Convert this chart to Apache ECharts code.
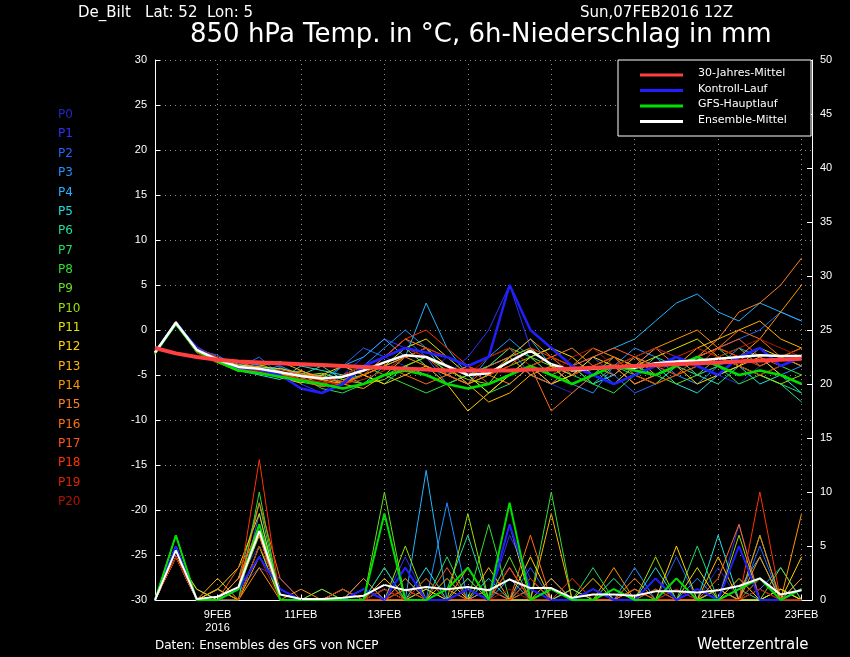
<!DOCTYPE html><html><head><meta charset="utf-8">
<script src="https://cdn.jsdelivr.net/npm/echarts@6/dist/echarts.min.js"></script>
<style>html,body{margin:0;background:#000}#c{width:850px;height:657px}</style></head><body><div id="c"></div>
<script>
// x in days of February, 12-hourly from 7 Feb 12Z
const times=[7.5,8,8.5,9,9.5,10,10.5,11,11.5,12,12.5,13,13.5,14,14.5,15,15.5,16,16.5,17,17.5,18,18.5,19,19.5,20,20.5,21,21.5,22,22.5,23];
const tickDays=[9,11,13,15,17,19,21,23];
const tickLabels=['9FEB\n2016','11FEB','13FEB','15FEB','17FEB','19FEB','21FEB','23FEB'];
const memberNames=['P0','P1','P2','P3','P4','P5','P6','P7','P8','P9','P10','P11','P12','P13','P14','P15','P16','P17','P18','P19','P20'];
const memberColors=['#2424c8','#3030ff','#2266ff','#2290ff','#22b4ff','#22dede','#22dca0','#22dc66','#33dd33','#66dd22','#99e000','#e0e000','#ffd200','#ffb400','#ff9600','#ff8020','#ff7010','#ff5520','#ff3300','#e02200','#b01400'];
const temps=[
[-2.5,0.5,-2,-3,-4,-3.5,-4,-5,-6,-5,-4,-3,-4,-5,-3,-4,-6,-5,-4,-6,-7,-5,-4,-6,-5,-3,-4,-5,-6,-4,-3,-4],
[-2.6,0.8,-1.8,-3.2,-3.5,-4,-4.5,-6,-7,-5,-3,-1,-2,-4,-5,-3,0,5,-2,-4,-6,-5,-3,-4,-2,-3,-5,-4,-3,-2,-4,-3],
[-2.4,0.9,-2.2,-2.8,-4.2,-3,-5,-5.5,-6,-4,-2,-3,-1,-3,-6,-5,-4,-2,-5,-6,-4,-3,-5,-7,-6,-4,-3,-2,-1,0,2,1],
[-2.5,0.7,-2.5,-3.5,-4,-4.5,-4,-5,-5,-6,-4,-2,0,-2,-4,-6,-3,-1,-3,-5,-6,-7,-4,-2,-3,-5,-6,-4,-2,-3,-5,-4],
[-2.7,1,-2,-3,-3.8,-4.2,-5,-4.5,-5.5,-4,-3,-1,-3,3,-2,-5,-4,-3,-1,-4,-5,-3,-2,-1,1,3,4,2,1,3,2,1],
[-2.6,0.9,-2.1,-3.3,-4.5,-5,-5.5,-4,-4.5,-5,-6,-4,-3,-2,-5,-4,-6,-5,-3,-2,-4,-6,-5,-3,-4,-6,-7,-5,-4,-6,-5,-7],
[-2.5,0.6,-2.3,-3.6,-4.4,-4.8,-4.2,-5,-4,-5.5,-5,-6,-4,-5,-6,-5,-4,-3,-5,-6,-5,-4,-6,-5,-3,-4,-5,-6,-4,-5,-6,-8],
[-2.4,0.8,-2.4,-3.1,-4.1,-3.8,-4.6,-5.2,-6.5,-7,-6,-5,-4,-3,-4,-5,-7,-6,-4,-3,-5,-6,-4,-5,-6,-4,-3,-2,-4,-5,-6,-7],
[-2.6,0.7,-2.2,-3.4,-4.3,-4.6,-5.2,-5.8,-6.2,-5,-4,-5,-6,-7,-6,-5,-4,-2,-3,-5,-4,-6,-7,-5,-4,-3,-5,-4,-6,-5,-4,-5],
[-2.5,0.9,-2,-3.2,-4,-4.4,-4.9,-5.4,-5,-6,-5,-3,-2,-4,-5,-6,-5,-4,-3,-4,-6,-5,-3,-4,-5,-6,-5,-3,-2,-4,-3,-4],
[-2.5,0.8,-2.1,-3.5,-4.2,-4.5,-5,-5.1,-4.8,-5.5,-6,-5.5,-4,-3,-4.5,-5.5,-6,-3,-2,-4,-5,-4,-3,-5,-6,-5,-4,-3,-4,-5,-6,-5],
[-2.6,0.6,-2.4,-3.3,-3.9,-4.1,-4.3,-4.8,-5.6,-6,-5,-4,-2,-1,-3,-5,-7,-5,-3,-2,-3,-5,-6,-4,-3,-2,-1,-3,-4,-2,-3,-2],
[-2.4,0.9,-2.2,-3,-4.4,-4.7,-5.3,-5.9,-5,-4,-5,-6,-5,-4,-6,-9,-7,-5,-4,-6,-5,-3,-4,-6,-5,-4,-6,-5,-4,-3,-5,-6],
[-2.5,0.7,-2.5,-3.6,-4.6,-4,-3.5,-4.5,-5.5,-6,-6.5,-5,-3,-2,-4,-6,-8,-7,-5,-4,-6,-5,-4,-3,-5,-4,-2,-1,0,1,-1,-2],
[-2.7,0.8,-2,-3.1,-4.3,-4.9,-5,-4.6,-5.2,-5.8,-5,-4,-3,-4,-5,-6,-5,-3,-1,-3,-4,-2,-3,-4,-2,-1,0,-2,-3,-1,2,5],
[-2.5,1,-2.3,-3.4,-4.1,-4.4,-4.7,-5.5,-6,-5,-4,-3,-1,-2,-3,-4,-5,-6,-4,-3,-2,-4,-5,-3,-2,-4,-3,-1,2,3,5,8],
[-2.6,0.9,-2.1,-3.2,-3.6,-4.2,-5.1,-5.6,-6.3,-6,-5,-4,-5,-6,-5,-4,-3,-2,-4,-9,-7,-5,-4,-6,-5,-4,-3,-2,0,-1,-3,-4],
[-2.5,0.7,-2.4,-3.5,-4.5,-4.8,-4.4,-4.9,-5.3,-5.7,-4,-3,-2,-3,-5,-6,-4,-3,-5,-6,-4,-3,-2,-3,-4,-5,-3,-2,-1,-3,-4,-3],
[-2.4,0.8,-2.2,-3.3,-4,-4.3,-4.8,-5.2,-5.6,-6.1,-5,-3,-1,0,-2,-4,-5,-4,-2,-3,-5,-4,-3,-5,-6,-5,-4,-2,-3,-4,-3,-2],
[-2.6,0.6,-2.5,-3.7,-4.4,-4.6,-5,-5.4,-5.8,-6,-5.5,-4.5,-3,-2,-3,-4,-6,-5,-4,-3,-4,-5,-6,-5,-4,-3,-2,-3,-4,-5,-4,-3],
[-2.5,0.9,-2,-3,-4.2,-4.6,-5.2,-5.5,-6,-5,-4,-3,-2,-3,-4,-5,-3,-2,-4,-5,-3,-2,-4,-3,-2,-3,-4,-3,-2,-1,-2,-3]
];
const controlTemp=[-2.5,0.8,-2.1,-3.3,-4.2,-4.4,-5,-6.5,-7,-6,-4,-3,-2,-2.5,-3,-4,-3,5,0,-2,-4,-5,-6,-5,-4,-3,-4,-5,-3,-2,-4,-3];
const gfsTemp=[-2.6,0.7,-2.3,-3.5,-4.5,-4.8,-5.2,-5.6,-6,-6.5,-6,-5,-4.5,-5,-6,-6.5,-6,-5,-4,-5,-6,-5,-4,-4.5,-5,-4,-3,-4,-5,-4.5,-5,-6];
const meanTemp=[-2.5,0.8,-2.2,-3.3,-4.1,-4.3,-4.7,-5.1,-5.4,-5.2,-4.5,-3.6,-2.8,-3,-4,-5,-4.8,-3.5,-2.3,-3.8,-4.5,-4.3,-4,-4.2,-3.7,-3.5,-3.4,-3.2,-3,-2.8,-2.9,-2.9];
const climTemp=[-2,-2.6,-3,-3.3,-3.5,-3.6,-3.7,-3.8,-3.9,-4,-4.1,-4.2,-4.3,-4.4,-4.5,-4.5,-4.5,-4.5,-4.4,-4.4,-4.3,-4.2,-4.1,-4,-3.9,-3.8,-3.7,-3.6,-3.5,-3.4,-3.3,-3.2];
const precip=[
[0,4,0,0,2,5,1,0,0,0,0,1,0,2,0,0,1,3,0,0,1,0,2,0,0,1,0,3,0,1,0,0],
[0,5,0,0,1,3,2,0,0,0,1,0,4,0,0,1,0,6,2,0,0,1,0,0,2,0,1,0,7,0,0,1],
[0,4,0,1,0,8,0,0,1,0,0,3,0,1,0,2,0,0,3,0,0,0,1,0,0,4,0,1,0,5,0,0],
[0,4,1,0,2,6,0,0,0,0,0,0,2,0,9,0,1,0,0,2,0,0,0,3,0,0,2,0,0,1,3,0],
[0,5,0,0,1,4,1,0,0,0,2,0,0,12,0,0,0,2,0,0,1,0,0,0,2,0,0,0,1,4,0,2],
[0,4,0,0,0,5,0,0,0,0,0,1,0,3,0,0,2,0,0,1,0,0,0,0,3,0,0,6,0,0,1,0],
[0,4,0,0,1,7,1,0,0,1,0,0,0,0,1,6,0,0,2,0,0,1,0,0,0,2,0,0,1,0,0,1],
[0,5,0,0,2,9,0,0,0,0,0,3,0,0,4,0,0,0,1,0,0,3,0,0,1,0,5,0,0,2,0,0],
[0,6,0,0,0,10,0,0,0,0,1,0,0,2,0,0,7,0,0,10,0,0,2,0,0,0,0,1,0,6,0,1],
[0,5,0,0,1,6,1,0,0,0,0,10,0,0,0,2,0,4,0,0,0,1,0,0,2,0,0,1,0,0,3,0],
[0,6,0,1,0,5,0,0,1,0,0,0,5,0,0,8,0,0,2,0,1,0,0,0,4,0,0,0,6,0,1,0],
[0,4,0,1,3,8,0,0,0,0,1,0,0,1,0,0,0,7,0,0,0,0,1,0,0,0,3,0,0,0,1,0],
[0,4,1,0,2,6,0,0,0,1,0,0,0,0,2,0,0,0,4,0,0,2,0,0,0,5,0,0,2,0,0,4],
[0,4,0,2,0,4,1,0,0,0,0,2,0,0,0,0,3,0,0,8,0,0,0,1,0,0,0,4,0,0,0,0],
[0,4,0,1,0,3,0,1,0,0,0,0,1,0,0,3,0,0,0,2,0,0,3,0,0,0,1,0,0,4,0,8],
[0,4,0,0,2,7,0,0,0,0,2,0,0,0,1,0,0,3,0,0,0,0,0,2,0,0,0,1,0,6,0,2],
[0,5,0,0,1,9,2,0,0,0,0,0,2,0,0,0,1,0,6,0,0,1,0,0,0,0,0,2,7,0,0,0],
[0,5,0,0,3,6,0,0,0,0,0,1,0,0,3,0,0,0,1,0,0,0,0,1,0,2,0,0,0,1,0,0],
[0,5,0,0,1,13,0,0,0,0,0,0,1,0,0,1,0,3,0,0,2,0,0,0,1,0,0,0,0,10,0,0],
[0,4,0,0,0,5,1,0,0,1,0,0,0,2,0,0,0,0,2,0,0,0,1,0,0,1,0,0,0,2,0,0],
[0,4,0,0,1,4,0,0,0,0,0,1,0,0,0,1,0,1,0,0,0,1,0,0,0,0,1,0,0,1,0,0]
];
const controlPrecip=[0,5,0,0,1,4,1,0,0,0,1,0,3,0,0,1,0,7,1,0,0,1,0,0,2,0,1,0,5,0,0,1];
const gfsPrecip=[0,6,0,0,1,7,0,0,0,0,0,8,0,0,1,3,0,9,0,1,0,0,1,0,0,2,0,0,1,2,0,1];
const meanPrecip=[0,4.6,0.1,0.3,1.2,6.4,0.5,0.1,0.1,0.2,0.4,1.4,0.9,1.2,1,1.2,0.9,1.9,1.1,1.1,0.2,0.5,0.5,0.4,0.8,0.8,0.7,0.9,1.3,2,0.5,0.9];
const zip=a=>a.map((v,i)=>[times[i],v]);
const series=[];
precip.forEach((p,i)=>series.push({type:'line',yAxisIndex:1,data:zip(p),symbol:'none',lineStyle:{width:1,color:memberColors[i]},z:2}));
temps.forEach((t,i)=>series.push({type:'line',data:zip(t),symbol:'none',lineStyle:{width:1,color:memberColors[i]},z:2}));
const big=(d,c,w,ax,z)=>({type:'line',yAxisIndex:ax,data:zip(d),symbol:'none',lineStyle:{width:w,color:c},z:z});
series.push(big(controlPrecip,'#2020ff',2,1,3),big(gfsPrecip,'#00e000',2,1,3),big(meanPrecip,'#ffffff',2,1,4));
series.push(big(controlTemp,'#2020ff',2.5,0,3),big(gfsTemp,'#00e000',2.5,0,3),big(meanTemp,'#ffffff',2.5,0,4),big(climTemp,'#ff4040',4,0,5));
series.push({type:'line',data:[],markLine:{silent:true,symbol:'none',label:{show:false},lineStyle:{color:'#888',type:[1,4],width:1},data:tickDays.map(d=>({xAxis:d}))}});
const graphic=[
{type:'text',left:78,top:6,style:{text:'De_Bilt   Lat: 52  Lon: 5',fill:'#fff',font:'15px "DejaVu Sans"'}},
{type:'text',left:580,top:6,style:{text:'Sun,07FEB2016 12Z',fill:'#fff',font:'15px "DejaVu Sans"'}},
{type:'text',left:190,top:22,style:{text:'850 hPa Temp. in °C, 6h-Niederschlag in mm',fill:'#fff',font:'26px "DejaVu Sans"'}},
{type:'text',left:155,top:640,style:{text:'Daten: Ensembles des GFS von NCEP',fill:'#fff',font:'12px "DejaVu Sans"'}},
{type:'text',left:697,top:638,style:{text:'Wetterzentrale',fill:'#fff',font:'15px "DejaVu Sans"'}},
{type:'rect',shape:{x:618,y:60,width:193,height:76},style:{fill:'#000',stroke:'#fff',lineWidth:1},z:10}
];
memberNames.forEach((n,i)=>graphic.push({type:'text',left:58,top:109+i*19.35,style:{text:n,fill:memberColors[i],font:'12px "DejaVu Sans"'}}));
[['30-Jahres-Mittel','#ff4040'],['Kontroll-Lauf','#2020ff'],['GFS-Hauptlauf','#00e000'],['Ensemble-Mittel','#ffffff']].forEach((e,i)=>{
graphic.push({type:'line',shape:{x1:640,y1:75+i*15.5,x2:683,y2:75+i*15.5},style:{stroke:e[1],lineWidth:3},z:11});
graphic.push({type:'text',left:698,top:68+i*15.5,style:{text:e[0],fill:'#fff',font:'11px "DejaVu Sans"'},z:11});});
const ch=echarts.init(document.getElementById('c'));
ch.setOption({backgroundColor:'#000',animation:false,graphic,
grid:{left:155,right:38,top:60,bottom:57},
xAxis:{type:'value',min:7.5,max:23.25,axisLine:{onZero:false,lineStyle:{color:'#fff'}},splitLine:{show:false},
 axisTick:{customValues:tickDays,inside:true,lineStyle:{color:'#fff'}},
 axisLabel:{customValues:tickDays,color:'#fff',fontSize:11,lineHeight:13,formatter:v=>tickLabels[tickDays.indexOf(v)]}},
yAxis:[{type:'value',min:-30,max:30,interval:5,axisLine:{show:true,lineStyle:{color:'#fff'}},axisTick:{show:true,inside:true},
 axisLabel:{color:'#fff',fontSize:11},splitLine:{lineStyle:{color:'#888',type:[1,4]}}},
 {type:'value',min:0,max:50,interval:5,axisLine:{show:true,lineStyle:{color:'#fff'}},axisTick:{show:true,inside:true},
 axisLabel:{color:'#fff',fontSize:11},splitLine:{show:false}}],
series});
</script></body></html>
